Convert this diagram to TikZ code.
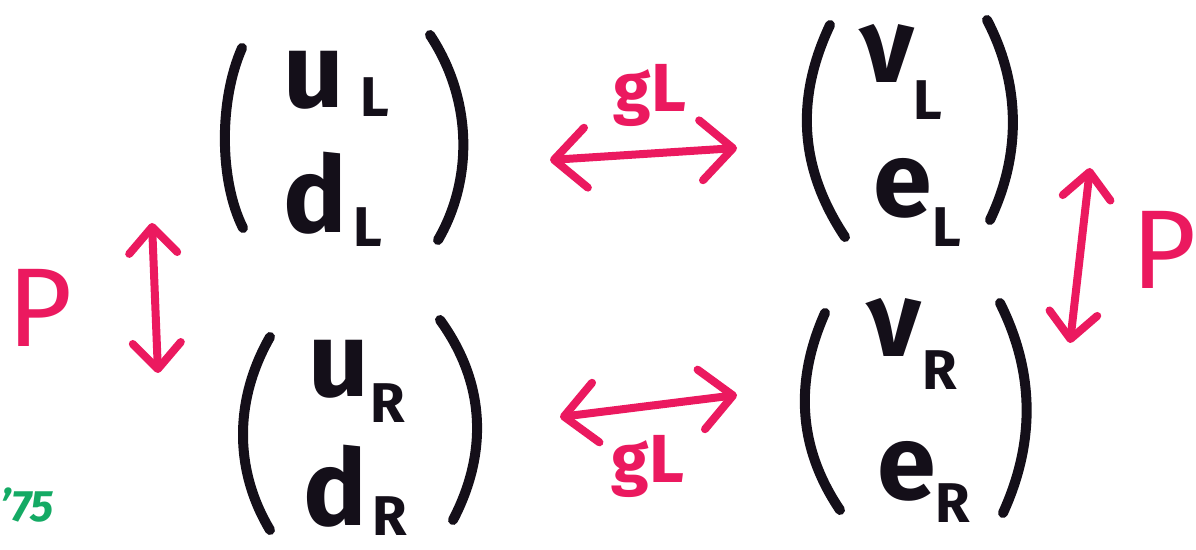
\documentclass[tikz,border=0pt]{standalone}
\usepackage{fontspec}
\setmainfont{Fira Sans}
\usetikzlibrary{arrows.meta}
\definecolor{ink}{RGB}{20,15,25}
\definecolor{pinkred}{RGB}{235,25,95}
\definecolor{sig}{RGB}{20,170,100}
\tikzset{
 paren/.style={line width=5pt, line cap=round, draw=ink},
 big/.style={inner sep=0pt, anchor=base west, text=ink, font=\fontsize{53}{58}\selectfont\bfseries},
 sub/.style={inner sep=0pt, anchor=base west, text=ink, font=\fontsize{28}{30}\selectfont\bfseries},
 link/.style={draw=pinkred, line width=4pt, line cap=round,
   {Straight Barb[length=16pt,width=30pt,round]}-{Straight Barb[length=16pt,width=30pt,round]}},
 vlink/.style={draw=pinkred, line width=4pt, line cap=round,
   {Straight Barb[length=13pt,width=24pt,round]}-{Straight Barb[length=13pt,width=24pt,round]}},
 coup/.style={inner sep=0pt, text=pinkred, font=\fontsize{34}{38}\selectfont\bfseries},
 par/.style={inner sep=0pt, text=pinkred, font=\fontsize{56}{60}\selectfont},
 sign/.style={inner sep=0pt, text=sig, font=\fontsize{22}{24}\selectfont\bfseries\itshape}
}
\begin{document}
\begin{tikzpicture}[x=0.5pt,y=-0.5pt]
\useasboundingbox (0,0) rectangle (1196,550);
% top-left doublet
\draw[paren] (242,48) .. controls (219,100) and (219,180) .. (243,228);
\draw[paren] (430,35) .. controls (473,100) and (473,180) .. (438,240);
\node[big] (uL) at (283,108) {u};
\node[sub] (uLs) at (360,117) {L};
\node[big] (dL) at (283,233) {d};
\node[sub] (dLs) at (353,247) {L};
% bottom-left doublet
\draw[paren] (270,337) .. controls (234,400) and (234,470) .. (270,530);
\draw[paren] (440,320) .. controls (487,385) and (487,455) .. (453,520);
\node[big] (uR) at (308,397) {u};
\node[sub] (uRs) at (370,423) {R};
\node[big] (dR) at (303,526) {d};
\node[sub] (dRs) at (372,536) {R};
% top-right doublet
\draw[paren] (830,25) .. controls (797,95) and (797,165) .. (845,237);
\draw[paren] (987,20) .. controls (1021,85) and (1021,155) .. (990,220);
\node[big] (nL) at (860,83) {ν};
\node[sub] (nLs) at (913,120) {L};
\node[big] (eL) at (873,217) {e};
\node[sub] (eLs) at (932,247) {L};
% bottom-right doublet
\draw[paren] (825,313) .. controls (796,378) and (796,445) .. (840,510);
\draw[paren] (1000,303) .. controls (1035,373) and (1035,443) .. (1003,513);
\node[big] (nR) at (867,357) {ν};
\node[sub] (nRs) at (922,390) {R};
\node[big] (eR) at (877,500) {e};
\node[sub] (eRs) at (935,523) {R};
% connectors
\coordinate (tl) at (550,160);
\coordinate (tr) at (737,148);
\coordinate (bl) at (560,417);
\coordinate (br) at (737,395);
\coordinate (lt) at (152,223);
\coordinate (lb) at (158,373);
\coordinate (rt) at (1090,168);
\coordinate (rb) at (1070,343);
\draw[link] (tl) -- (tr);
\draw[link] (bl) -- (br);
\draw[vlink] (lt) -- (lb);
\draw[vlink] (rt) -- (rb);
\node[coup] (g1) at (650,95) {gL};
\node[coup] (g2) at (648,466) {gL};
\node[par] (P1) at (40,308) {P};
\node[par] (P2) at (1164,250) {P};
\node[sign] (yr) at (27,505) {’75};
\end{tikzpicture}
\end{document}
